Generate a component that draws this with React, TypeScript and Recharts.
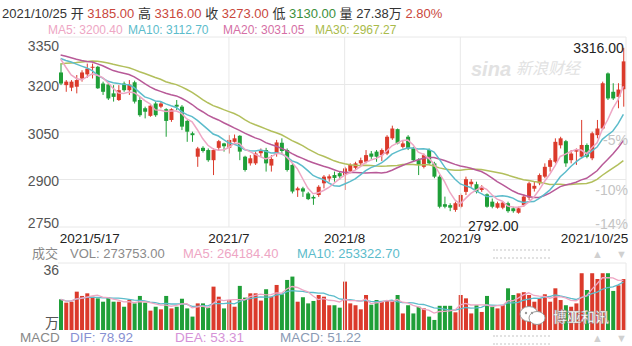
import { ComposedChart, Bar, Line, XAxis, YAxis, CartesianGrid, ReferenceLine } from 'recharts'

// K线 2021/5/17 – 2021/10/25 (日线)
const opens = [
  3238, 3198, 3190, 3193, 3219, 3232, 3253, 3256, 3203, 3200,
  3172, 3151, 3203, 3182, 3207, 3151, 3125, 3101, 3140, 3130,
  3122, 3088, 3136, 3130, 3085, 3046, 2972, 3000, 2993, 2961,
  3000, 3014, 3000, 3019, 3038, 2972, 2951, 2951, 2983, 2993,
  2944, 2982, 3016, 2993, 2946, 2866, 2872, 2856, 2845, 2851,
  2888, 2903, 2914, 2920, 2914, 2927, 2937, 2951, 2956, 2982,
  2988, 2977, 2982, 3030, 3059, 3003, 3035, 2998, 2961, 2940,
  2993, 2951, 2909, 2822, 2819, 2804, 2814, 2861, 2885, 2885,
  2867, 2853, 2830, 2811, 2811, 2825, 2809, 2795, 2819, 2843,
  2871, 2888, 2909, 2940, 2956, 3008, 3021, 2961, 2988, 2972,
  3009, 2967, 3040, 3061, 3235, 3177, 3161, 3185,
]
const highs = [
  3267, 3214, 3214, 3230, 3245, 3266, 3266, 3259, 3209, 3205,
  3198, 3198, 3209, 3214, 3212, 3161, 3130, 3135, 3146, 3146,
  3125, 3125, 3151, 3135, 3088, 3051, 3003, 3005, 2998, 2998,
  3025, 3016, 3040, 3042, 3040, 2975, 2977, 2988, 2998, 3000,
  2977, 3025, 3030, 2998, 2951, 2877, 2877, 2861, 2850, 2882,
  2914, 2916, 2925, 2925, 2940, 2951, 2956, 2969, 2993, 2990,
  2993, 2998, 3040, 3070, 3061, 3021, 3040, 3003, 2967, 2982,
  2998, 2956, 2914, 2846, 2825, 2830, 2856, 2909, 2901, 2893,
  2882, 2856, 2840, 2830, 2832, 2830, 2814, 2814, 2853, 2893,
  2893, 2919, 2951, 2967, 3030, 3035, 3025, 2993, 2998, 3088,
  3014, 3051, 3088, 3209, 3238, 3204, 3204, 3316,
]
const lows = [
  3198, 3177, 3179, 3172, 3209, 3221, 3219, 3186, 3167, 3151,
  3146, 3148, 3177, 3167, 3140, 3098, 3093, 3098, 3098, 3125,
  3035, 3082, 3119, 3056, 3019, 3019, 2940, 2985, 2956, 2914,
  2993, 2988, 2982, 3016, 2961, 2925, 2944, 2946, 2972, 2925,
  2925, 2972, 2982, 2925, 2856, 2845, 2845, 2835, 2820, 2845,
  2872, 2893, 2893, 2900, 2867, 2920, 2930, 2944, 2951, 2965,
  2956, 2958, 2977, 3025, 3011, 2998, 2993, 2956, 2914, 2935,
  2946, 2904, 2809, 2809, 2800, 2798, 2809, 2851, 2877, 2856,
  2861, 2811, 2809, 2808, 2806, 2795, 2795, 2792, 2814, 2835,
  2862, 2882, 2904, 2925, 2951, 2998, 2940, 2951, 2946, 2967,
  2967, 2961, 3030, 3056, 3151, 3151, 3125, 3130,
]
const closes = [
  3203, 3209, 3209, 3214, 3238, 3250, 3256, 3188, 3177, 3156,
  3161, 3182, 3182, 3200, 3146, 3103, 3114, 3133, 3103, 3140,
  3085, 3122, 3130, 3067, 3051, 3040, 2998, 2990, 2961, 2993,
  3021, 3005, 3025, 3030, 2988, 2930, 2967, 2982, 2993, 2951,
  2965, 3017, 2990, 2930, 2862, 2872, 2862, 2838, 2840, 2877,
  2909, 2910, 2905, 2910, 2935, 2946, 2951, 2961, 2977, 2972,
  2972, 2993, 3035, 3061, 3014, 3014, 2998, 2961, 2946, 2977,
  2951, 2909, 2814, 2814, 2811, 2825, 2851, 2901, 2893, 2861,
  2877, 2814, 2814, 2825, 2827, 2800, 2800, 2809, 2846, 2888,
  2880, 2914, 2940, 2961, 3019, 3030, 2951, 2982, 2993, 3009,
  2972, 3046, 3061, 3204, 3156, 3156, 3184, 3273,
]
// 成交量 (万)
const vols = [
  16.5, 14.7, 15.2, 20.6, 18.3, 19.7, 17.9, 17.0, 15.2, 17.4,
  15.2, 15.2, 12.5, 16.1, 14.3, 18.3, 14.7, 10.4, 12.5, 11.1,
  18.3, 11.6, 12.5, 16.8, 11.6, 7.2, 14.3, 14.3, 12.0, 23.3,
  17.9, 11.6, 16.1, 12.5, 23.7, 17.4, 19.7, 19.7, 15.8, 21.9,
  17.9, 24.2, 19.2, 26.9, 28.7, 15.2, 17.6, 14.3, 15.6, 18.8,
  17.9, 13.3, 13.3, 12.0, 26.0, 14.3, 13.3, 11.1, 18.8, 13.6,
  16.1, 15.2, 15.6, 16.1, 18.8, 8.9, 13.3, 8.9, 12.5, 11.6,
  7.2, 5.4, 13.0, 13.0, 13.0, 9.5, 18.8, 17.0, 8.9, 13.3,
  9.7, 18.3, 12.5, 11.6, 13.3, 22.4, 18.8, 19.7, 20.3, 18.8,
  15.2, 17.0, 19.2, 15.2, 22.4, 16.1, 13.3, 12.5, 14.3, 30.5,
  21.5, 30.5, 27.4, 30.5, 30.5, 21.0, 24.0, 27.38,
]
// 5/17 之前的收盘价 (估计, 用于均线起点)
const warmCloses = [
  3150, 3170, 3180, 3190, 3200, 3210, 3220, 3235, 3250, 3285,
  3290, 3300, 3310, 3320, 3300, 3290, 3310, 3300, 3310, 3310,
  3270, 3260, 3280, 3300, 3307, 3340, 3330, 3270, 3260,
]

const xTickIdx = [0, 32, 54, 76, 107]
const xTickLabels = ['2021/5/17', '2021/7', '2021/8', '2021/9', '2021/10/25']
const priceTicks = [2750, 2900, 3050, 3200, 3350]
const pctTicks = [3025, 2866, 2760]
const pctLabels = ['-5%', '-10%', '-14%']
const gridIdx = [32, 54, 76]

const RED = '#db3a2b'
const GREEN = '#1f9f38'
const C_MA5 = '#eea6c4'
const C_MA10 = '#5cbccb'
const C_MA20 = '#b85a98'
const C_MA30 = '#b2bf5c'
const FONT = '"Liberation Sans", Arial, "Noto Sans CJK SC", sans-serif'

const allCloses = [...warmCloses, ...closes]
const ma = (n: number, i: number) => {
  const end = warmCloses.length + i
  let s = 0
  for (let k = end - n + 1; k <= end; k++) s += allCloses[k]
  return s / n
}
const volMa = (n: number, i: number) => {
  const from = Math.max(0, i - n + 1)
  const part = vols.slice(from, i + 1)
  return part.reduce((a, b) => a + b, 0) / part.length
}

const data = closes.map((c, i) => ({
  i,
  o: opens[i],
  h: highs[i],
  l: lows[i],
  c,
  v: vols[i],
  ma5: ma(5, i),
  ma10: ma(10, i),
  ma20: ma(20, i),
  ma30: ma(30, i),
  vma5: volMa(5, i),
  vma10: volMa(10, i),
}))

const maxIdx = highs.indexOf(Math.max(...highs))
const minIdx = lows.indexOf(Math.min(...lows))

function Candle(props: any) {
  const { x, y, width, height, payload, index } = props
  const { o, h, l, c } = payload
  const color = c >= o ? RED : GREEN
  const top = height >= 0 ? y : y + height
  const hh = Math.abs(height)
  const k = hh / (h - l || 1)
  const yOf = (v: number) => top + (h - v) * k
  const cx = x + width / 2
  const b1 = yOf(Math.max(o, c))
  const b2 = yOf(Math.min(o, c))
  return (
    <g>
      <line x1={cx} x2={cx} y1={top} y2={top + hh} stroke={color} strokeWidth={1} />
      <rect x={x} y={b1} width={width} height={Math.max(b2 - b1, 1)} fill={color} />
      {index === maxIdx && (
        <text x={cx} y={top} textAnchor="end" dominantBaseline="central" fontSize={14} fill="#222" fontFamily={FONT}>
          {h.toFixed(2)}
        </text>
      )}
      {index === minIdx && (
        <text x={cx} y={top + hh + 12} textAnchor="end" dominantBaseline="central" fontSize={14} fill="#222" fontFamily={FONT}>
          {l.toFixed(2)}
        </text>
      )}
    </g>
  )
}

function VolBar(props: any) {
  const { x, y, width, height, payload } = props
  return <rect x={x} y={y} width={width} height={height} fill={payload.c >= payload.o ? RED : GREEN} />
}

function XTick(props: any) {
  const { x, y, payload, index } = props
  const last = index === xTickIdx.length - 1
  const anchor = index === 0 ? 'start' : last ? 'end' : 'middle'
  const dx = index === 0 ? -1 : last ? 5 : 0
  return (
    <text x={x + dx} y={y + 11} textAnchor={anchor} dominantBaseline="central" fontSize={13.5} fill="#222" fontFamily={FONT}>
      {xTickLabels[xTickIdx.indexOf(payload.value)]}
    </text>
  )
}

function PriceTick(props: any) {
  const { x, y, payload } = props
  const dy = payload.value === 3350 ? 9 : payload.value === 2750 ? -4 : 1.5
  return (
    <text x={x + 1} y={y + dy} textAnchor="end" dominantBaseline="central" fontSize={14} fill="#555" fontFamily={FONT}>
      {payload.value}
    </text>
  )
}

function VolTick(props: any) {
  const { x, y, payload } = props
  const top = payload.value === 36
  return (
    <text x={x + 1} y={y + (top ? 7 : -7)} textAnchor="end" dominantBaseline="central" fontSize={14} fill="#555" fontFamily={FONT}>
      {top ? '36' : '万'}
    </text>
  )
}

const abs = (left: number, top: number, color: string, size = 13): React.CSSProperties => ({
  position: 'absolute',
  left,
  top,
  color,
  fontSize: size,
  lineHeight: 1,
  whiteSpace: 'pre',
  fontFamily: FONT,
})

export default function App() {
  return (
    <div style={{ position: 'fixed', left: 0, top: 0, width: 632, height: 346, background: '#fff', overflow: 'hidden' }}>
      {/* 水印 */}
      <div style={{ ...abs(471, 59, '#e2e2e2', 20), fontStyle: 'italic', fontWeight: 700 }}>sina</div>
      <div style={{ ...abs(516, 61, '#e2e2e2', 16), fontStyle: 'italic' }}>新浪财经</div>

      {/* 行情头 */}
      <div style={abs(2, 7, '#333')}>
        <span>2021/10/25 开 </span>
        <span style={{ color: '#c9473c' }}>3185.00</span>
        <span> 高 </span>
        <span style={{ color: '#c9473c' }}>3316.00</span>
        <span> 收 </span>
        <span style={{ color: '#c9473c' }}>3273.00</span>
        <span> 低 </span>
        <span style={{ color: '#3c8f3c' }}>3130.00</span>
        <span> 量 27.38万 </span>
        <span style={{ color: '#c9473c' }}>2.80%</span>
      </div>
      <div style={abs(48, 24, C_MA5, 12)}>MA5: 3200.40</div>
      <div style={abs(128, 24, C_MA10, 12)}>MA10: 3112.70</div>
      <div style={abs(223, 24, '#d56fa5', 12)}>MA20: 3031.05</div>
      <div style={abs(315, 24, '#a9bb4b', 12)}>MA30: 2967.27</div>

      <div style={{ position: 'absolute', left: 0, top: 0 }}>
        <ComposedChart width={632} height={250} data={data} margin={{ top: 37, right: 6, left: 0, bottom: 0 }}>
          <CartesianGrid vertical={false} stroke="#e8e8e8" />
          <XAxis dataKey="i" type="category" ticks={xTickIdx} interval={0} tick={<XTick />}
            axisLine={false} tickLine={false} tickSize={0} tickMargin={0} height={23} />
          <YAxis domain={[2750, 3350]} ticks={priceTicks} interval={0} tick={<PriceTick />}
            axisLine={false} tickLine={false} tickSize={0} tickMargin={0} width={58} />
          {gridIdx.map((g) => (
            <ReferenceLine key={g} x={g} stroke="#e8e8e8" />
          ))}
          <ReferenceLine x={107} position="end" stroke="#e8e8e8" />
          {pctTicks.map((v, k) => (
            <ReferenceLine key={'p' + v} y={v} stroke="none"
              label={{ value: pctLabels[k], position: 'insideRight', offset: -2, fill: '#c4c4c4', fontSize: 14, fontFamily: FONT }} />
          ))}
          <Bar dataKey={(d: any) => [d.l, d.h]} barSize={4} shape={<Candle />} isAnimationActive={false} />
          <Line dataKey="ma30" stroke={C_MA30} strokeWidth={1.5} dot={false} isAnimationActive={false} />
          <Line dataKey="ma20" stroke={C_MA20} strokeWidth={1.5} dot={false} isAnimationActive={false} />
          <Line dataKey="ma10" stroke={C_MA10} strokeWidth={1.5} dot={false} isAnimationActive={false} />
          <Line dataKey="ma5" stroke={C_MA5} strokeWidth={1.5} dot={false} isAnimationActive={false} />
        </ComposedChart>
      </div>

      {/* 成交量 */}
      <div style={abs(32, 247, '#888', 13)}>成交</div>
      <div style={abs(70, 247, '#8a8a8a', 13)}>VOL: 273753.00</div>
      <div style={abs(183, 247, C_MA5, 13)}>MA5: 264184.40</div>
      <div style={abs(297, 247, C_MA10, 13)}>MA10: 253322.70</div>
      <div style={{ position: 'absolute', left: 493, top: 249, width: 57, height: 6, borderTop: '2px dotted #e2e2e2', borderBottom: '2px dotted #e2e2e2' }} />
      <div style={abs(592, 249, '#d0d0d0', 11)}>▲</div>
      <div style={abs(616, 249, '#d0d0d0', 11)}>▼</div>

      <div style={{ position: 'absolute', left: 0, top: 250 }}>
        <ComposedChart width={632} height={85} data={data} margin={{ top: 13, right: 6, left: 0, bottom: 5 }}>
          <XAxis dataKey="i" type="category" hide />
          <YAxis domain={[0, 36]} ticks={[0, 36]} interval={0} tick={<VolTick />}
            axisLine={false} tickLine={false} tickSize={0} tickMargin={0} width={58} />
          <ReferenceLine y={36} stroke="#e8e8e8" />
          {gridIdx.map((g) => (
            <ReferenceLine key={g} x={g} stroke="#e8e8e8" />
          ))}
          <ReferenceLine x={107} position="end" stroke="#e8e8e8" />
          <Bar dataKey="v" barSize={4} shape={<VolBar />} isAnimationActive={false} />
          <Line dataKey="vma10" stroke={C_MA10} strokeWidth={1.3} dot={false} isAnimationActive={false} />
          <Line dataKey="vma5" stroke={C_MA5} strokeWidth={1.3} dot={false} isAnimationActive={false} />
        </ComposedChart>
      </div>

      {/* 公众号水印 */}
      <svg style={{ position: 'absolute', left: 518, top: 305 }} width={30} height={22}>
        <ellipse cx={11} cy={9} rx={9} ry={7.5} fill="#fff" stroke="#9a9a9a" strokeWidth={1} />
        <ellipse cx={19} cy={13} rx={8} ry={6.5} fill="#fff" stroke="#9a9a9a" strokeWidth={1} />
        <circle cx={8} cy={8} r={1.2} fill="#9a9a9a" />
        <circle cx={14} cy={8} r={1.2} fill="#9a9a9a" />
      </svg>
      <div style={{ ...abs(553, 310, '#fff', 14), WebkitTextStroke: '0.5px #888', fontWeight: 700 }}>博亚和讯</div>

      {/* MACD */}
      <div style={abs(20, 331, '#888', 13.5)}>MACD</div>
      <div style={abs(70, 331, '#8790d2', 13.5)}>DIF: 78.92</div>
      <div style={abs(175, 331, '#d592d8', 13.5)}>DEA: 53.31</div>
      <div style={abs(280, 331, '#8a9ab4', 13.5)}>MACD: 51.22</div>
      <div style={{ position: 'absolute', left: 493, top: 335, width: 57, height: 6, borderTop: '2px dotted #e2e2e2', borderBottom: '2px dotted #e2e2e2' }} />
      <div style={abs(592, 333, '#d0d0d0', 11)}>▲</div>
      <div style={abs(616, 333, '#d0d0d0', 11)}>▼</div>
    </div>
  )
}
